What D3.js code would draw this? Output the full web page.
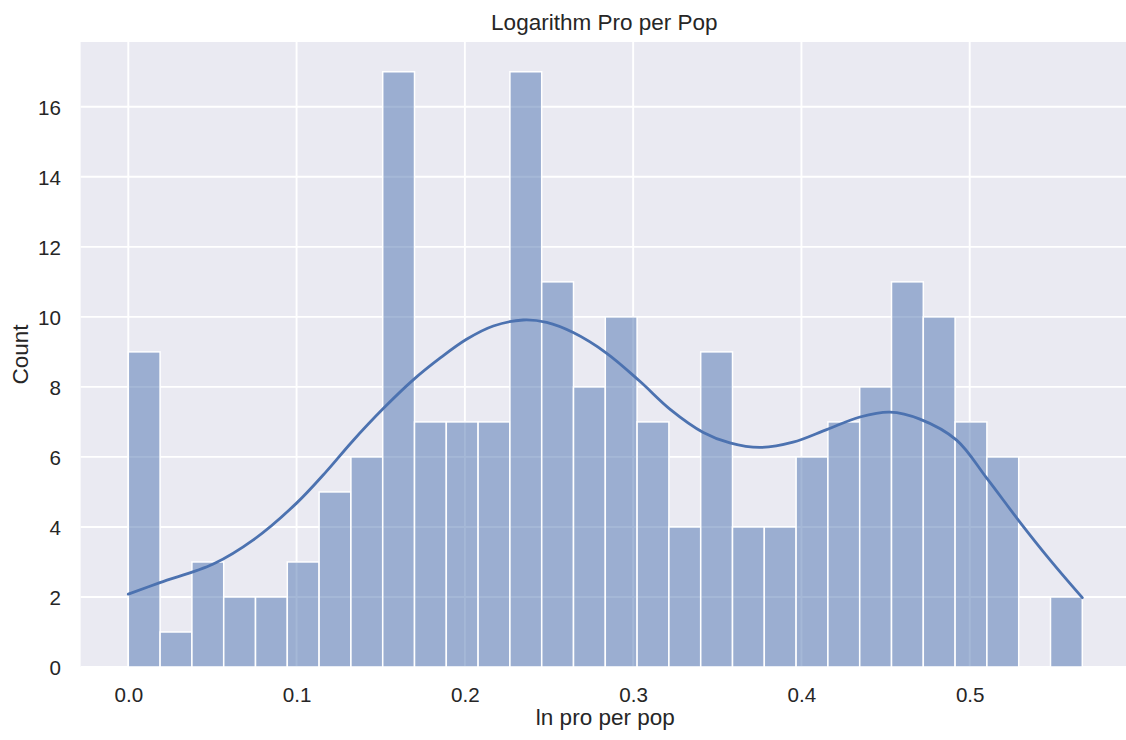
<!DOCTYPE html>
<html>
<head>
<meta charset="utf-8">
<script src="https://cdn.jsdelivr.net/npm/d3@7"></script>
<style>
  html, body { margin: 0; padding: 0; background: #ffffff; }
  svg { display: block; font-family: "Liberation Sans", Arial, sans-serif; }
</style>
</head>
<body>
<svg id="chart" width="1126" height="740"></svg>
<script>
// Histogram of ln(pro per pop): 30 equal-width bins between the data min and max
const dataMin = 0.0;
const dataMax = 0.5669;
const binCounts = [9, 1, 3, 2, 2, 3, 5, 6, 17, 7, 7, 7, 17, 11, 8, 10, 7, 4, 9, 4, 4, 6, 7, 8, 11, 10, 7, 6, 0, 2];

// Kernel density estimate, scaled to counts
const kdeX = [0, 0.0188, 0.0505, 0.0743, 0.1, 0.118, 0.1327, 0.1515, 0.1693, 0.1852, 0.201, 0.2169, 0.2347, 0.2486, 0.2644, 0.2843, 0.304, 0.322, 0.3417, 0.3575, 0.3753, 0.395, 0.415, 0.4348, 0.4526, 0.4704, 0.4922, 0.51, 0.5298, 0.5477, 0.5669];
const kdeY = [2.08, 2.41, 2.94, 3.63, 4.68, 5.6, 6.42, 7.38, 8.2, 8.82, 9.36, 9.74, 9.91, 9.84, 9.55, 8.96, 8.16, 7.36, 6.7, 6.4, 6.27, 6.42, 6.78, 7.14, 7.28, 7.08, 6.48, 5.4, 4.14, 3.06, 1.98];

const xTicks = [0.0, 0.1, 0.2, 0.3, 0.4, 0.5];
const yTicks = [0, 2, 4, 6, 8, 10, 12, 14, 16];

const titleText = "Logarithm Pro per Pop";
const xLabelText = "ln pro per pop";
const yLabelText = "Count";

const svg = d3.select("#chart");
const plot = { left: 80.6, right: 1130, top: 42, bottom: 667 };

const span = dataMax - dataMin;
const x = d3.scaleLinear()
  .domain([dataMin - span * 0.05, dataMax + span * 0.05])
  .range([plot.left, plot.right]);
const yMax = d3.max(binCounts) * 1.05;
const y = d3.scaleLinear().domain([0, yMax]).range([plot.bottom, plot.top]);

const textColor = "#262626";
const barColor = "#4c72b0";

// axes background
svg.append("rect")
  .attr("x", plot.left).attr("y", plot.top)
  .attr("width", plot.right - plot.left).attr("height", plot.bottom - plot.top)
  .attr("fill", "#eaeaf2");

// grid lines
const grid = svg.append("g");
grid.selectAll("line.gx").data(xTicks).join("line")
  .attr("x1", d => x(d)).attr("x2", d => x(d))
  .attr("y1", plot.top).attr("y2", plot.bottom)
  .attr("stroke", "#ffffff").attr("stroke-width", 1.9);
grid.selectAll("line.gy").data(yTicks).join("line")
  .attr("x1", plot.left).attr("x2", plot.right)
  .attr("y1", d => y(d)).attr("y2", d => y(d))
  .attr("stroke", "#ffffff").attr("stroke-width", 1.9);

// bars
const binWidth = span / binCounts.length;
const bins = binCounts.map((c, i) => ({ x0: dataMin + i * binWidth, x1: dataMin + (i + 1) * binWidth, count: c }));
svg.append("g").selectAll("rect").data(bins.filter(b => b.count > 0)).join("rect")
  .attr("x", d => x(d.x0))
  .attr("width", d => x(d.x1) - x(d.x0))
  .attr("y", d => y(d.count))
  .attr("height", d => y(0) - y(d.count))
  .attr("fill", barColor).attr("fill-opacity", 0.5)
  .attr("stroke", "#ffffff").attr("stroke-width", 1.5);

// density curve
const kde = kdeX.map((v, i) => [v, kdeY[i]]);
svg.append("path")
  .datum(kde)
  .attr("d", d3.line().x(d => x(d[0])).y(d => y(d[1])).curve(d3.curveCatmullRom.alpha(0.5)))
  .attr("fill", "none")
  .attr("stroke", barColor)
  .attr("stroke-width", 2.8)
  .attr("stroke-linejoin", "round")
  .attr("stroke-linecap", "round");

// axes (tick labels only, no spines or tick marks)
const xAxis = d3.axisBottom(x).tickValues(xTicks).tickFormat(d3.format(".1f")).tickSize(0).tickPadding(0);
const gx = svg.append("g").attr("transform", `translate(0,${plot.bottom})`).call(xAxis);
gx.select(".domain").remove();
gx.selectAll("text")
  .attr("y", 35).attr("dy", null)
  .attr("fill", textColor)
  .style("font-size", "20.6px")
  .style("font-family", "'Liberation Sans', Arial, sans-serif");

const yAxis = d3.axisLeft(y).tickValues(yTicks).tickFormat(d3.format("d")).tickSize(0).tickPadding(19.6);
const gy = svg.append("g").attr("transform", `translate(${plot.left},0)`).call(yAxis);
gy.select(".domain").remove();
gy.selectAll("text")
  .attr("dy", "0.36em")
  .attr("fill", textColor)
  .style("font-size", "20.6px")
  .style("font-family", "'Liberation Sans', Arial, sans-serif");

// title and axis labels
svg.append("text")
  .attr("x", (plot.left + plot.right) / 2 - 1).attr("y", 30)
  .attr("text-anchor", "middle").attr("fill", textColor)
  .style("font-size", "22.5px")
  .text(titleText);

svg.append("text")
  .attr("x", (plot.left + plot.right) / 2).attr("y", 725)
  .attr("text-anchor", "middle").attr("fill", textColor)
  .style("font-size", "22.5px")
  .text(xLabelText);

svg.append("text")
  .attr("transform", `translate(28,${(plot.top + plot.bottom) / 2}) rotate(-90)`)
  .attr("text-anchor", "middle").attr("fill", textColor)
  .style("font-size", "22.5px")
  .text(yLabelText);
</script>
</body>
</html>
